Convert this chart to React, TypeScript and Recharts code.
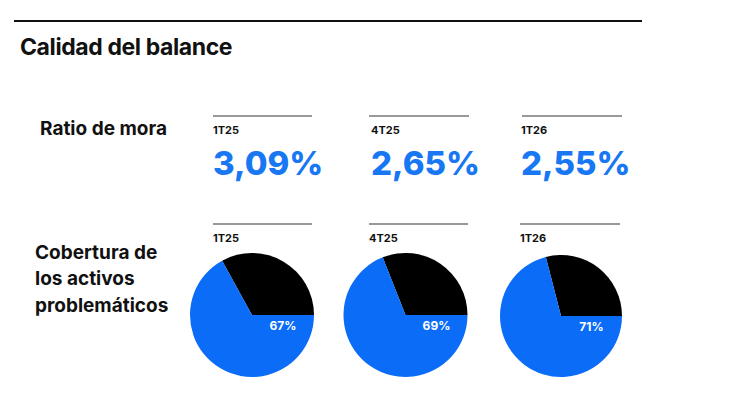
import { PieChart, Pie, Cell } from "recharts";

const periods = ["1T25", "4T25", "1T26"];
const moraRatio = ["3,09%", "2,65%", "2,55%"];
// cobertura de los activos problemáticos, %
const coverage = [67, 69, 71];

const BLUE = "#0a6cf7";
const NUM_BLUE = "#1877f2";
const FONT = "Inter, 'Open Sans', sans-serif";

// column geometry: period header x, rule start/end, pie centre
const columns = [
  { x: 213, topRule: [213, 312], botRule: [213, 312], botX: 213, cx: 252, cy: 315, r: 62 },
  { x: 371, topRule: [369, 469], botRule: [369, 468], botX: 369, cx: 405.5, cy: 315, r: 62 },
  { x: 521, topRule: [522, 622], botRule: [520, 620], botX: 520, cx: 561, cy: 316, r: 61 },
];

const renderLabel = (props: any) => {
  const { cx, cy, outerRadius, index, value } = props;
  if (index !== 1) return null;
  return (
    <text
      x={cx + outerRadius * 0.5}
      y={cy + 10}
      fill="#fff"
      fontFamily={FONT}
      fontWeight={700}
      fontSize={12}
      textAnchor="middle"
      dominantBaseline="central"
    >
      {value}%
    </text>
  );
};

export default function App() {
  return (
    <div
      style={{
        position: "fixed",
        left: 0,
        top: 0,
        width: 735,
        height: 402,
        background: "#fff",
      }}
    >
      <div style={{ position: "absolute", left: 0, top: 0 }}>
        <PieChart width={735} height={402} margin={{ top: 0, right: 0, bottom: 0, left: 0 }}>
          {columns.map((c, i) => {
            const data = [
              { name: "resto", value: 100 - coverage[i] },
              { name: "cobertura", value: coverage[i] },
            ];
            return (
              <Pie
                key={periods[i]}
                data={data}
                dataKey="value"
                cx={c.cx}
                cy={c.cy}
                outerRadius={c.r}
                startAngle={0}
                endAngle={360}
                stroke="none"
                label={renderLabel}
                labelLine={false}
                isAnimationActive={false}
              >
                <Cell fill="#000" />
                <Cell fill={BLUE} />
              </Pie>
            );
          })}
        </PieChart>
      </div>

      <svg
        width={735}
        height={402}
        style={{ position: "absolute", left: 0, top: 0, pointerEvents: "none" }}
      >
        <line x1={14} x2={642} y1={21} y2={21} stroke="#111" strokeWidth={2} />
        <text x={20} y={55} fontFamily={FONT} fontWeight={700} fontSize={23} fill="#111" letterSpacing={-0.4}>
          Calidad del balance
        </text>

        <text x={40} y={135} fontFamily={FONT} fontWeight={700} fontSize={19} fill="#111">
          Ratio de mora
        </text>
        <text fontFamily={FONT} fontWeight={700} fontSize={19} fill="#111">
          <tspan x={35} y={259}>Cobertura de</tspan>
          <tspan x={35} y={285}>los activos</tspan>
          <tspan x={35} y={312}>problemáticos</tspan>
        </text>

        {columns.map((c, i) => (
          <g key={periods[i]}>
            <line x1={c.topRule[0]} x2={c.topRule[1]} y1={116} y2={116} stroke="#777" strokeWidth={1.5} />
            <text x={c.x} y={134} fontFamily={FONT} fontWeight={700} fontSize={11} fill="#111">
              {periods[i]}
            </text>
            <text x={c.x} y={175} fontFamily={FONT} fontWeight={800} fontSize={33} fill={NUM_BLUE}>
              {moraRatio[i]}
            </text>
            <line x1={c.botRule[0]} x2={c.botRule[1]} y1={224} y2={224} stroke="#777" strokeWidth={1.5} />
            <text x={c.botX} y={242} fontFamily={FONT} fontWeight={700} fontSize={11} fill="#111">
              {periods[i]}
            </text>
          </g>
        ))}
      </svg>
    </div>
  );
}
